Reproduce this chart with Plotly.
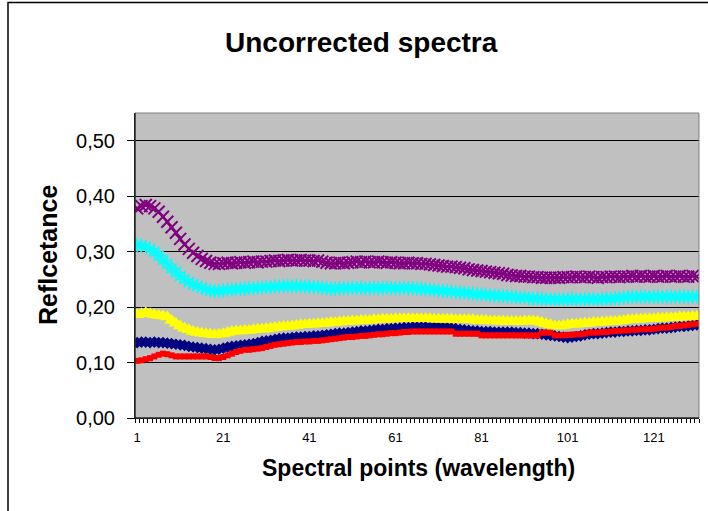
import plotly.graph_objects as go

points = list(range(1, 132))
tick_positions = [1, 21, 41, 61, 81, 101, 121]
tick_labels = ["1", "21", "41", "61", "81", "101", "121"]
y_ticks = [0.0, 0.1, 0.2, 0.3, 0.4, 0.5]
y_labels = ["0,00", "0,10", "0,20", "0,30", "0,40", "0,50"]

navy = [0.136, 0.137, 0.137, 0.136, 0.137, 0.136, 0.136, 0.135, 0.134, 0.133,
        0.132, 0.131, 0.129, 0.128, 0.127, 0.126, 0.125, 0.124, 0.123, 0.124,
        0.126, 0.128, 0.129, 0.130, 0.131, 0.132, 0.133, 0.134, 0.136, 0.138,
        0.139, 0.140, 0.142, 0.143, 0.144, 0.144, 0.145, 0.146, 0.146, 0.147,
        0.147, 0.148, 0.148, 0.149, 0.150, 0.151, 0.152, 0.153, 0.153, 0.154,
        0.155, 0.156, 0.157, 0.157, 0.158, 0.159, 0.160, 0.160, 0.161, 0.161,
        0.162, 0.162, 0.163, 0.163, 0.164, 0.164, 0.164, 0.164, 0.164, 0.164,
        0.164, 0.163, 0.163, 0.162, 0.161, 0.160, 0.159, 0.158, 0.157, 0.157,
        0.156, 0.156, 0.156, 0.155, 0.155, 0.155, 0.155, 0.155, 0.154, 0.154,
        0.153, 0.153, 0.152, 0.152, 0.151, 0.150, 0.149, 0.148, 0.147, 0.146,
        0.145, 0.146, 0.147, 0.148, 0.150, 0.151, 0.152, 0.152, 0.153, 0.154,
        0.155, 0.155, 0.156, 0.156, 0.157, 0.157, 0.158, 0.158, 0.159, 0.159,
        0.160, 0.161, 0.162, 0.162, 0.163, 0.164, 0.165, 0.165, 0.166, 0.167, 0.168]

red = [0.103, 0.104, 0.106, 0.108, 0.111, 0.114, 0.116, 0.115, 0.113, 0.111,
       0.111, 0.111, 0.111, 0.111, 0.111, 0.111, 0.111, 0.110, 0.108, 0.108,
       0.110, 0.113, 0.116, 0.119, 0.121, 0.123, 0.123, 0.124, 0.125, 0.126,
       0.128, 0.130, 0.132, 0.133, 0.134, 0.135, 0.136, 0.137, 0.137, 0.138,
       0.138, 0.139, 0.139, 0.140, 0.141, 0.142, 0.143, 0.144, 0.145, 0.146,
       0.146, 0.147, 0.148, 0.148, 0.149, 0.150, 0.151, 0.151, 0.152, 0.153,
       0.153, 0.154, 0.155, 0.155, 0.156, 0.156, 0.156, 0.156, 0.156, 0.156,
       0.156, 0.156, 0.156, 0.156, 0.152, 0.152, 0.152, 0.152, 0.152, 0.152,
       0.149, 0.149, 0.149, 0.149, 0.149, 0.149, 0.149, 0.149, 0.149, 0.149,
       0.149, 0.149, 0.149, 0.149, 0.154, 0.154, 0.154, 0.149, 0.149, 0.149,
       0.150, 0.150, 0.151, 0.151, 0.152, 0.154, 0.154, 0.154, 0.155, 0.155,
       0.156, 0.157, 0.157, 0.158, 0.158, 0.159, 0.159, 0.160, 0.160, 0.160,
       0.161, 0.162, 0.163, 0.163, 0.164, 0.166, 0.166, 0.167, 0.168, 0.169, 0.170]

yellow = [0.186, 0.188, 0.190, 0.188, 0.186, 0.185, 0.184, 0.182, 0.176, 0.171,
          0.166, 0.162, 0.159, 0.156, 0.154, 0.153, 0.152, 0.151, 0.150, 0.151,
          0.152, 0.154, 0.156, 0.157, 0.157, 0.158, 0.158, 0.159, 0.160, 0.160,
          0.161, 0.162, 0.163, 0.164, 0.165, 0.165, 0.166, 0.167, 0.168, 0.168,
          0.169, 0.169, 0.170, 0.170, 0.171, 0.172, 0.172, 0.173, 0.174, 0.174,
          0.175, 0.175, 0.176, 0.176, 0.176, 0.177, 0.177, 0.178, 0.178, 0.178,
          0.179, 0.179, 0.179, 0.179, 0.179, 0.179, 0.179, 0.179, 0.179, 0.178,
          0.178, 0.178, 0.178, 0.178, 0.177, 0.177, 0.177, 0.177, 0.177, 0.176,
          0.176, 0.176, 0.175, 0.175, 0.175, 0.175, 0.174, 0.174, 0.174, 0.174,
          0.175, 0.175, 0.175, 0.174, 0.172, 0.170, 0.168, 0.166, 0.166, 0.167,
          0.168, 0.169, 0.169, 0.170, 0.171, 0.171, 0.172, 0.172, 0.173, 0.173,
          0.174, 0.174, 0.175, 0.176, 0.177, 0.177, 0.178, 0.178, 0.179, 0.179,
          0.179, 0.180, 0.180, 0.181, 0.181, 0.181, 0.182, 0.182, 0.182, 0.183, 0.183]

cyan = [0.312, 0.311, 0.309, 0.305, 0.300, 0.293, 0.285, 0.278, 0.270, 0.263,
        0.256, 0.250, 0.245, 0.241, 0.238, 0.235, 0.232, 0.230, 0.229, 0.229,
        0.230, 0.231, 0.232, 0.232, 0.233, 0.233, 0.234, 0.234, 0.235, 0.235,
        0.236, 0.236, 0.237, 0.237, 0.238, 0.238, 0.237, 0.238, 0.237, 0.237,
        0.237, 0.236, 0.236, 0.235, 0.234, 0.233, 0.233, 0.234, 0.234, 0.234,
        0.235, 0.234, 0.235, 0.234, 0.234, 0.235, 0.234, 0.234, 0.235, 0.234,
        0.234, 0.234, 0.235, 0.234, 0.234, 0.233, 0.233, 0.232, 0.231, 0.231,
        0.230, 0.229, 0.229, 0.228, 0.227, 0.226, 0.226, 0.225, 0.224, 0.223,
        0.223, 0.222, 0.221, 0.221, 0.220, 0.220, 0.219, 0.219, 0.218, 0.217,
        0.217, 0.216, 0.216, 0.215, 0.215, 0.214, 0.214, 0.214, 0.214, 0.214,
        0.214, 0.215, 0.214, 0.214, 0.215, 0.214, 0.215, 0.214, 0.215, 0.215,
        0.215, 0.216, 0.216, 0.217, 0.218, 0.219, 0.218, 0.219, 0.219, 0.218,
        0.219, 0.219, 0.218, 0.219, 0.219, 0.218, 0.219, 0.219, 0.218, 0.219, 0.219]

purple = [0.378, 0.382, 0.384, 0.382, 0.378, 0.372, 0.363, 0.354, 0.344, 0.334,
          0.323, 0.313, 0.305, 0.298, 0.292, 0.287, 0.283, 0.280, 0.278, 0.278,
          0.279, 0.280, 0.279, 0.280, 0.281, 0.280, 0.281, 0.282, 0.281, 0.282,
          0.282, 0.283, 0.284, 0.283, 0.284, 0.285, 0.284, 0.284, 0.285, 0.284,
          0.284, 0.283, 0.284, 0.282, 0.280, 0.279, 0.279, 0.280, 0.279, 0.280,
          0.281, 0.282, 0.281, 0.282, 0.281, 0.281, 0.282, 0.281, 0.280, 0.281,
          0.280, 0.279, 0.279, 0.280, 0.279, 0.279, 0.278, 0.278, 0.277, 0.276,
          0.275, 0.274, 0.273, 0.273, 0.272, 0.271, 0.270, 0.268, 0.267, 0.266,
          0.265, 0.264, 0.263, 0.262, 0.261, 0.260, 0.258, 0.257, 0.256, 0.256,
          0.255, 0.255, 0.254, 0.254, 0.253, 0.253, 0.253, 0.253, 0.253, 0.254,
          0.254, 0.254, 0.255, 0.254, 0.254, 0.255, 0.254, 0.253, 0.254, 0.254,
          0.255, 0.255, 0.254, 0.255, 0.255, 0.256, 0.255, 0.256, 0.255, 0.255,
          0.256, 0.255, 0.255, 0.256, 0.255, 0.255, 0.256, 0.255, 0.255, 0.256, 0.255]

FONT = "Liberation Sans, Arial, sans-serif"

series = [
    (navy, "#000080", "diamond", 9, 0),
    (red, "#FF0000", "square", 6, 0),
    (yellow, "#FFFF00", "triangle-up", 13, 0),
    (cyan, "#00FFFF", "asterisk-open", 12, 1.5),
    (purple, "#800080", "x-thin-open", 12, 2),
]

fig = go.Figure()
for vals, col, sym, size, lw in series:
    marker = dict(symbol=sym, size=size, color=col)
    marker["line"] = dict(color=col, width=lw)
    fig.add_trace(go.Scatter(
        x=points, y=vals, mode="lines+markers",
        line=dict(color=col, width=2),
        marker=marker, showlegend=False, cliponaxis=True,
    ))

fig.update_layout(
    width=708, height=511,
    margin=dict(l=135, r=9, t=113, b=93, autoexpand=False),
    paper_bgcolor="white", plot_bgcolor="#C0C0C0",
    font=dict(family=FONT, color="black"),
    showlegend=False,
)

fig.update_xaxes(
    range=[0.5, 131.5], showgrid=False, zeroline=False, automargin=False,
    showline=True, linecolor="black", linewidth=1,
    tickmode="array", tickvals=tick_positions, ticktext=tick_labels,
    ticks="outside", ticklen=7, tickcolor="rgba(0,0,0,0)",
    tickfont=dict(size=13, family=FONT),
    minor=dict(tick0=0.5, dtick=1, ticks="outside", ticklen=4,
               tickcolor="black", tickwidth=1, showgrid=False),
)
fig.update_yaxes(
    range=[0, 0.55], showgrid=True, gridcolor="black", gridwidth=1,
    zeroline=False, showline=True, linecolor="black", linewidth=1, automargin=False,
    tickmode="array", tickvals=y_ticks, ticktext=y_labels,
    ticks="outside", ticklen=7, tickcolor="black",
    ticklabelstandoff=8,
    tickfont=dict(size=20, family=FONT),
)

# plot area border (top/right gray) and outer chart border
fig.add_shape(type="rect", xref="paper", yref="paper", x0=0, x1=1, y0=0, y1=1,
              line=dict(color="#808080", width=1), layer="above")
fig.add_shape(type="line", xref="paper", yref="paper", x0=0, x1=0, y0=0, y1=1,
              line=dict(color="black", width=1), layer="above")
fig.add_shape(type="line", xref="paper", yref="paper", x0=0, x1=1, y0=0, y1=0,
              line=dict(color="black", width=1), layer="above")
fig.add_shape(type="rect", xref="paper", yref="paper",
              x0=(8 - 135) / 564, x1=(730 - 135) / 564,
              y0=(418 - 530) / 305, y1=(418 - 2.5) / 305,
              line=dict(color="black", width=1.5), layer="above")

fig.add_annotation(text="<b>Uncorrected spectra</b>", xref="paper", yref="paper",
                   x=(361 - 135) / 564, y=(418 - 42) / 305, showarrow=False,
                   xanchor="center", yanchor="middle",
                   font=dict(size=28, family=FONT, color="black"))
fig.add_annotation(text="<b>Spectral points (wavelength)</b>", xref="paper", yref="paper",
                   x=(418 - 135) / 564, y=(418 - 468) / 305, showarrow=False,
                   xanchor="center", yanchor="middle",
                   font=dict(size=23, family=FONT, color="black"))
fig.add_annotation(text="<b>Reflcetance</b>", xref="paper", yref="paper",
                   x=(48 - 135) / 564, y=(418 - 255) / 305, showarrow=False,
                   textangle=-90, xanchor="center", yanchor="middle",
                   font=dict(size=25, family=FONT, color="black"))

fig.write_html("out.html", config={"displayModeBar": False},
               post_script="document.body.style.margin='0px';")
